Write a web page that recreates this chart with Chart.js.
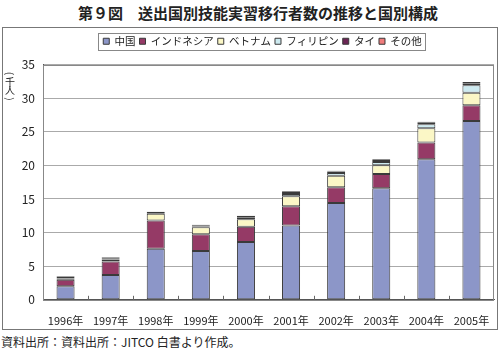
<!DOCTYPE html>
<html>
<head>
<meta charset="utf-8">
<script src="https://cdn.jsdelivr.net/npm/chart.js@4/dist/chart.umd.min.js"></script>
<style>
  body { margin: 0; background: #fff; font-family: "Noto Sans CJK JP", sans-serif; }
  #wrap { position: relative; width: 500px; height: 354px; }
  #title { position: absolute; left: 0; top: 2px; width: 516px; text-align: center; font-size: 15px; font-weight: bold; color: #222; }
  #box { position: absolute; left: 2px; top: 27px; width: 494px; height: 301px; border: 1px solid #777; }
  #source { position: absolute; left: 1px; top: 333px; font-size: 12px; color: #222; }
</style>
</head>
<body>
<div id="wrap">
  <div id="title">第９図　送出国別技能実習移行者数の推移と国別構成</div>
  <div id="box"><canvas id="chart" width="494" height="301"></canvas></div>
  <div id="source">資料出所：資料出所：JITCO 白書より作成。</div>
</div>
<script>
const years = ['1996年', '1997年', '1998年', '1999年', '2000年', '2001年', '2002年', '2003年', '2004年', '2005年'];
const china       = [2.0, 3.7, 7.6, 7.25, 8.6, 11.05, 14.4, 16.6, 20.9, 26.6];
const indonesia   = [1.0, 2.0, 4.2, 2.5, 2.25, 2.85, 2.35, 2.1, 2.5, 2.35];
const vietnam     = [0.15, 0.3, 1.0, 1.05, 1.15, 1.5, 1.7, 1.3, 2.1, 1.85];
const philippines = [0.1, 0.1, 0.1, 0.1, 0.2, 0.35, 0.4, 0.5, 0.6, 1.1];
const thailand    = [0.2, 0.2, 0.15, 0.2, 0.25, 0.3, 0.25, 0.3, 0.3, 0.3];
const others      = [0.1, 0.05, 0.05, 0.05, 0.05, 0.1, 0.1, 0.1, 0.1, 0.2];
const yTicks = [0, 5, 10, 15, 20, 25, 30, 35];

const FONT = '"Noto Sans CJK JP", sans-serif';

function series(label, data, color) {
    return {
        label: label,
        data: data,
        backgroundColor: color,
        borderColor: '#3a3a3a',
        borderWidth: 1,
        borderSkipped: false,
        barPercentage: 0.4,
        categoryPercentage: 1.0
    };
}

// extra room under the legend, and the legend sits a bit right of centre
const legendGap = {
    id: 'legendGap',
    beforeInit(chart) {
        const fit = chart.legend.fit;
        chart.legend.fit = function () {
            fit.call(this);
            this.height += 8;
        };
    },
    afterLayout(chart) {
        chart.legend.left += 28;
    }
};

// legend frame, plot frame, inward x ticks and the vertical unit label
const decorations = {
    id: 'decorations',
    afterDraw(chart) {
        const ctx = chart.ctx;
        const a = chart.chartArea;
        const boxes = chart.legend.legendHitBoxes;
        ctx.save();
        ctx.strokeStyle = '#888';
        ctx.lineWidth = 1;
        if (boxes && boxes.length) {
            const l = Math.min(...boxes.map(b => b.left)) - 5;
            const r = Math.max(...boxes.map(b => b.left + b.width)) + 4;
            const t = Math.min(...boxes.map(b => b.top)) - 3;
            const btm = Math.max(...boxes.map(b => b.top + b.height)) + 3;
            ctx.strokeRect(Math.round(l) + 0.5, Math.round(t) + 0.5, Math.round(r - l), Math.round(btm - t));
        }

        ctx.strokeRect(Math.round(a.left) + 0.5, Math.round(a.top) + 0.5,
            Math.round(a.right - a.left) - 1, Math.round(a.bottom - a.top));

        const x = chart.scales.x;
        ctx.strokeStyle = '#666';
        for (let i = 1; i < years.length; i++) {
            const px = Math.round((x.getPixelForValue(i - 1) + x.getPixelForValue(i)) / 2) + 0.5;
            ctx.beginPath();
            ctx.moveTo(px, a.bottom);
            ctx.lineTo(px, a.bottom - 4);
            ctx.stroke();
        }

        // unit label written top to bottom: （千人）
        ctx.fillStyle = '#222';
        ctx.font = '10px ' + FONT;
        ctx.textAlign = 'center';
        ctx.textBaseline = 'middle';
        const unit = ['(', '千', '人', ')'];
        unit.forEach((c, i) => {
            const cy = a.top + 9 + i * 8.5;
            if (c === '(' || c === ')') {
                ctx.save();
                ctx.translate(7, cy);
                ctx.rotate(Math.PI / 2);
                ctx.fillText(c, 0, 0);
                ctx.restore();
            } else {
                ctx.fillText(c, 7, cy);
            }
        });
        ctx.restore();
    }
};

new Chart(document.getElementById('chart').getContext('2d'), {
    type: 'bar',
    data: {
        labels: years,
        datasets: [
            series('中国', china, '#8c96c8'),
            series('インドネシア', indonesia, '#953a66'),
            series('ベトナム', vietnam, '#fbf7c6'),
            series('フィリピン', philippines, '#cdeaf0'),
            series('タイ', thailand, '#6b2454'),
            series('その他', others, '#f07c7c')
        ]
    },
    options: {
        responsive: false,
        animation: false,
        layout: { padding: { left: 0, right: 3, top: 4, bottom: 0 } },
        plugins: {
            title: { display: false },
            tooltip: { enabled: false },
            legend: {
                position: 'top',
                labels: {
                    boxWidth: 6,
                    boxHeight: 6,
                    padding: 4,
                    color: '#222',
                    font: { family: FONT, size: 10.5 }
                }
            }
        },
        scales: {
            x: {
                stacked: true,
                grid: { display: false },
                border: { color: '#555' },
                afterFit(scale) { scale.height -= 4; },
                ticks: { color: '#222', font: { family: FONT, size: 11 }, maxRotation: 0, padding: 6 }
            },
            y: {
                stacked: true,
                min: 0,
                max: 35,
                afterBuildTicks(scale) { scale.ticks = yTicks.map(v => ({ value: v })); },
                afterFit(scale) { scale.width = 40; },
                grid: { color: '#aaa', drawTicks: false },
                border: { color: '#555' },
                ticks: { color: '#222', font: { family: FONT, size: 12 }, padding: 8 }
            }
        }
    },
    plugins: [legendGap, decorations]
});
</script>
</body>
</html>
